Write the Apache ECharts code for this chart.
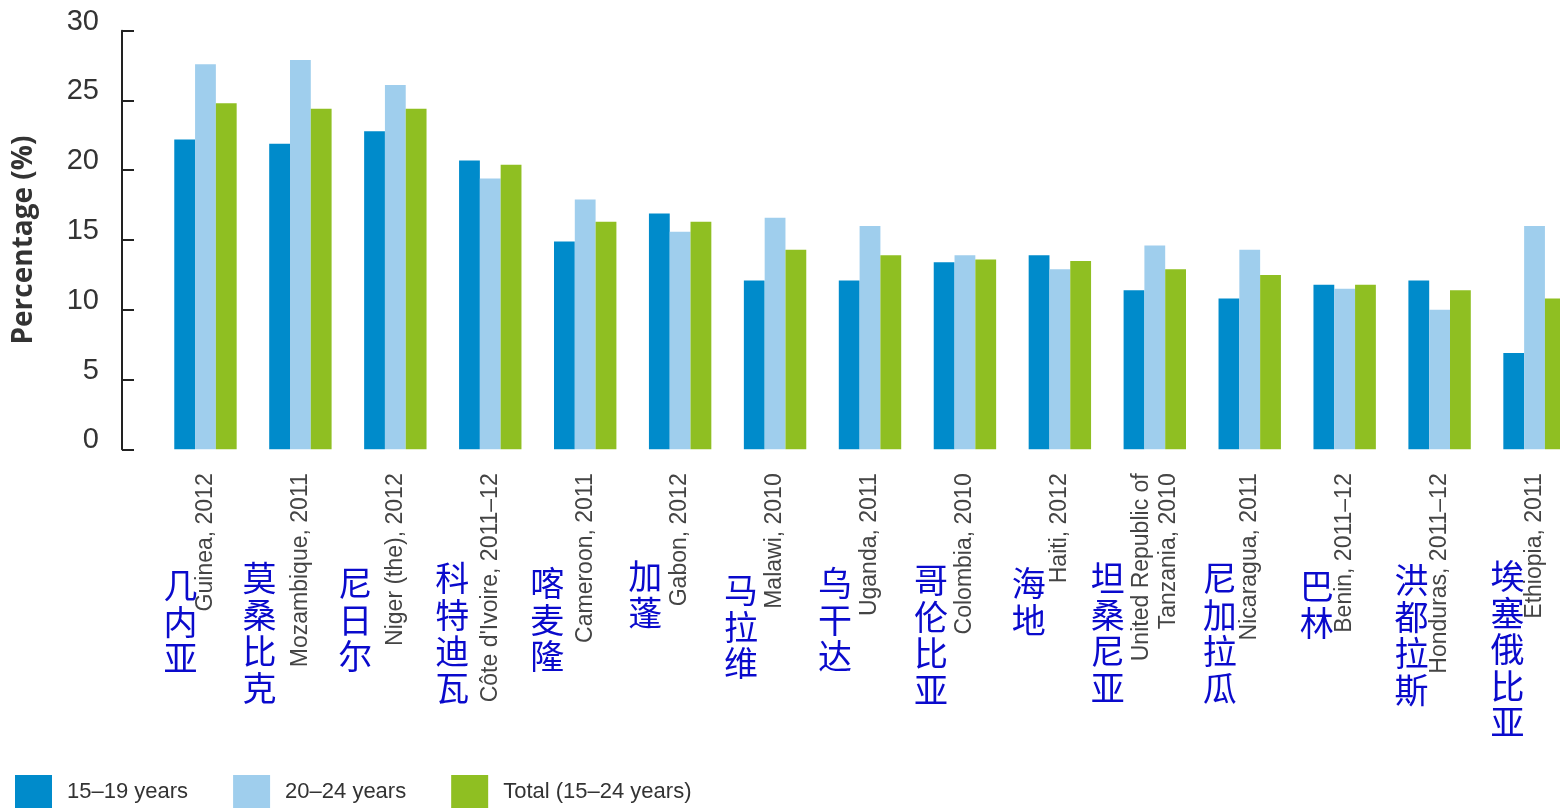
<!DOCTYPE html>
<html>
<head>
<meta charset="utf-8">
<script src="https://cdn.jsdelivr.net/npm/echarts@6/dist/echarts.min.js"></script>
<style>
  html, body { margin: 0; padding: 0; background: #fff; }
  #chart { width: 1560px; height: 808px; }
</style>
</head>
<body>
<div id="chart"></div>
<script>
// categories (English axis labels) and the Chinese names written next to them
var categories = ['Guinea, 2012', 'Mozambique, 2011', 'Niger (the), 2012', "Côte d'Ivoire, 2011–12",
    'Cameroon, 2011', 'Gabon, 2012', 'Malawi, 2010', 'Uganda, 2011', 'Colombia, 2010', 'Haiti, 2012',
    'United Republic of\nTanzania, 2010', 'Nicaragua, 2011', 'Benin, 2011–12', 'Honduras, 2011–12', 'Ethiopia, 2011'];
var cnNames = ['几内亚', '莫桑比克', '尼日尔', '科特迪瓦', '喀麦隆', '加蓬', '马拉维', '乌干达',
    '哥伦比亚', '海地', '坦桑尼亚', '尼加拉瓜', '巴林', '洪都拉斯', '埃塞俄比亚'];

var seriesNames = ['15–19 years', '20–24 years', 'Total (15–24 years)'];
var age1519 = [22.2, 21.9, 22.8, 20.7, 14.9, 16.9, 12.1, 12.1, 13.4, 13.9, 11.4, 10.8, 11.8, 12.1, 6.9];
var age2024 = [27.6, 27.9, 26.1, 19.4, 17.9, 15.6, 16.6, 16.0, 13.9, 12.9, 14.6, 14.3, 11.5, 10.0, 16.0];
var total = [24.8, 24.4, 24.4, 20.4, 16.3, 16.3, 14.3, 13.9, 13.6, 13.5, 12.9, 12.5, 11.8, 11.4, 10.8];

var yTicks = [0, 5, 10, 15, 20, 25, 30];

// where the hand placed chinese notes sit: shift from category centre, top y
var noteDx = [-25, -41, -40, -38, -38, -35, -34, -35, -34, -31, -47, -30, -28, -28, -27];
var noteTop = [567, 560, 565, 560, 565, 558, 572, 565, 562, 565, 560, 560, 568, 562, 558];

var colors = ['#008bcb', '#9fceed', '#8fbf22'];

var chart = echarts.init(document.getElementById('chart'));

var barStyle = function (name, data, color) {
    return {
        name: name,
        type: 'bar',
        data: data,
        barWidth: 20.8,
        barGap: 0,
        itemStyle: { color: color },
        emphasis: { disabled: true }
    };
};

chart.setOption({
    animation: false,
    color: colors,
    // plot runs past the right edge, the last group is cut by the frame
    grid: { left: 158, width: 1424, top: 30.7, height: 418.6, outerBoundsMode: 'none' },
    legend: {
        left: 15,
        top: 775,
        padding: 0,
        icon: 'rect',
        itemWidth: 37,
        itemHeight: 34,
        itemGap: 45,
        textStyle: {
            fontFamily: 'Liberation Sans',
            fontSize: 22,
            color: '#333',
            padding: [0, 0, 0, 10]
        },
        data: seriesNames
    },
    xAxis: {
        type: 'category',
        data: categories,
        axisLine: { show: false },
        axisTick: { show: false },
        axisLabel: {
            interval: 0,
            rotate: 90,
            margin: 24,
            fontFamily: 'Liberation Sans',
            fontSize: 23,
            lineHeight: 27,
            color: '#444'
        }
    },
    yAxis: {
        type: 'value',
        min: yTicks[0],
        max: yTicks[yTicks.length - 1],
        interval: 5,
        offset: 36,
        name: 'Percentage (%)',
        nameLocation: 'middle',
        nameGap: 84,
        nameTextStyle: {
            fontFamily: 'Open Sans',
            fontWeight: 'bold',
            fontSize: 28,
            color: '#333'
        },
        axisLine: { show: true, lineStyle: { color: '#222', width: 2 } },
        axisTick: { show: true, inside: true, length: 12, lineStyle: { color: '#222', width: 2 } },
        splitLine: { show: false },
        axisLabel: {
            margin: 23,
            fontFamily: 'Liberation Sans',
            fontSize: 29,
            color: '#333',
            verticalAlign: 'bottom',
            lineHeight: 18
        }
    },
    series: [
        barStyle(seriesNames[0], age1519, colors[0]),
        barStyle(seriesNames[1], age2024, colors[1]),
        barStyle(seriesNames[2], total, colors[2])
    ]
});

// chinese country names, stacked one character per line
var notes = cnNames.map(function (cn, i) {
    var cx = chart.convertToPixel({ xAxisIndex: 0 }, categories[i]);
    return {
        type: 'text',
        x: cx + noteDx[i],
        y: noteTop[i],
        style: {
            text: cn.split('').join('\n'),
            fontFamily: 'Noto Sans CJK SC',
            fontSize: 34,
            lineHeight: 36.5,
            fill: '#0a0acc',
            align: 'center',
            verticalAlign: 'top'
        }
    };
});

chart.setOption({ graphic: notes });
</script>
</body>
</html>
